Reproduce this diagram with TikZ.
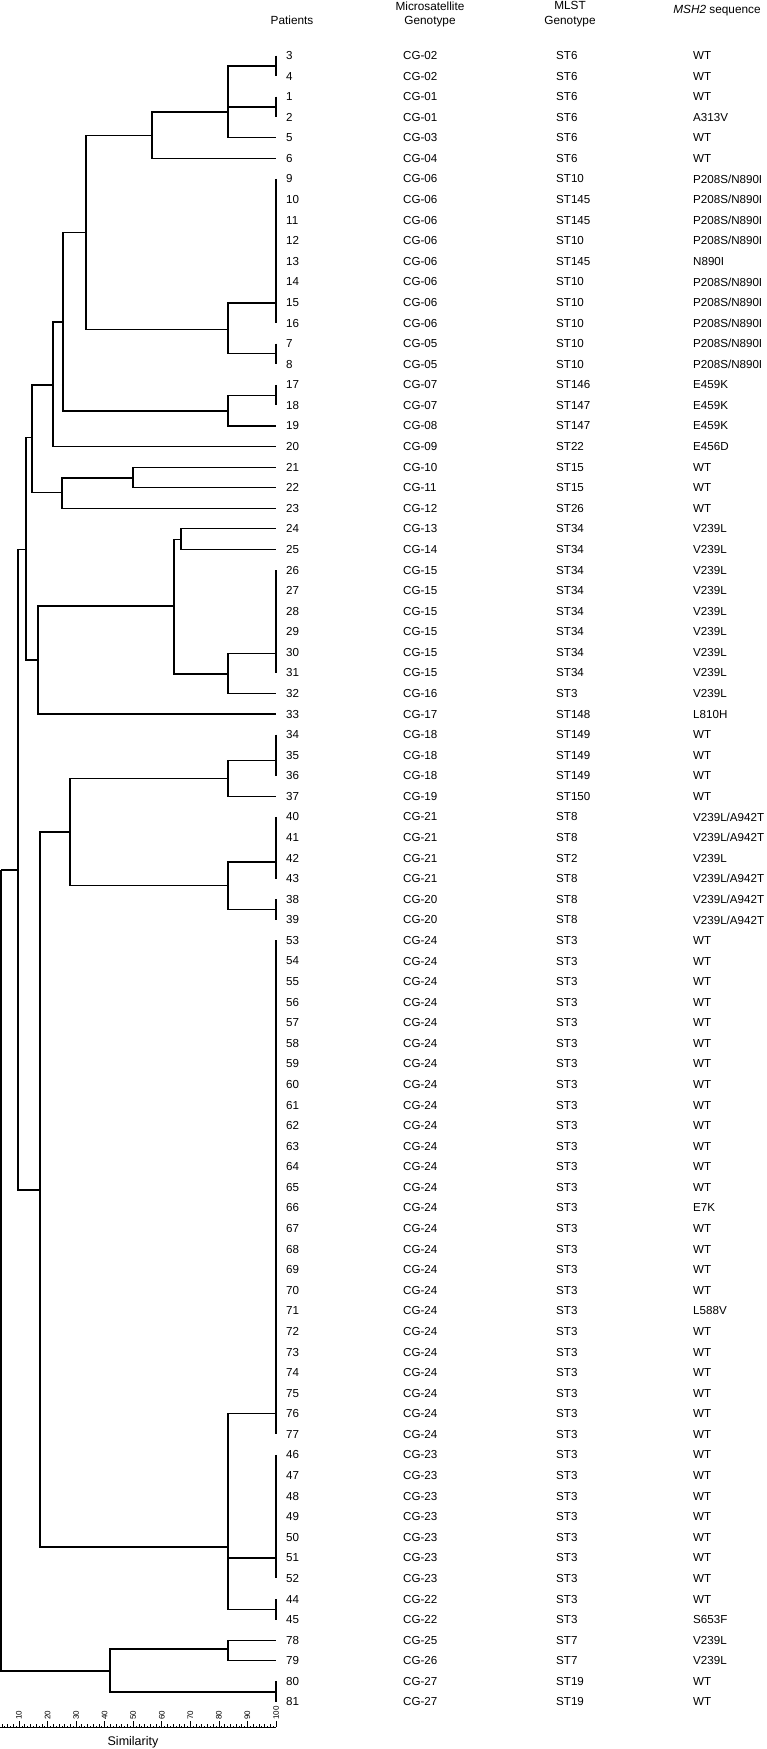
\documentclass[tikz,border=0pt]{standalone}
\usepackage{fontspec}
\setmainfont{Liberation Sans}

\begin{document}
\begin{tikzpicture}[x=1pt, y=-1pt,
    link/.style={line width=1.2pt},
    heavy/.style={line width=1.8pt},
    bar/.style={line width=1.8pt},
    axis/.style={line width=0.6pt},
    cell/.style={anchor=west, inner sep=0pt, font=\fontsize{11.6}{13}\selectfont},
    head/.style={anchor=base, inner sep=0pt, font=\fontsize{11.8}{14}\selectfont},
    tick/.style={rotate=90, anchor=west, inner sep=0pt, font=\fontsize{8}{8}\selectfont}]
\useasboundingbox (0,0) rectangle (767,1749);

\node[head] (hpat) at (292,24) {Patients};
\node[head] (hcg1) at (430,10) {Microsatellite};
\node[head] (hcg2) at (430,24.6) {Genotype};
\node[head] (hst1) at (570,9.2) {MLST};
\node[head] (hst2) at (570,24) {Genotype};
\node[head] (hmsh) at (717,13) {\textit{MSH2} sequence};

\foreach \p/\cg/\st/\ms [count=\r from 0] in {
    3/CG-02/ST6/WT, 4/CG-02/ST6/WT, 1/CG-01/ST6/WT, 2/CG-01/ST6/A313V,
    5/CG-03/ST6/WT, 6/CG-04/ST6/WT,
    9/CG-06/ST10/{P208S/N890I}, 10/CG-06/ST145/{P208S/N890I},
    11/CG-06/ST145/{P208S/N890I}, 12/CG-06/ST10/{P208S/N890I},
    13/CG-06/ST145/N890I, 14/CG-06/ST10/{P208S/N890I},
    15/CG-06/ST10/{P208S/N890I}, 16/CG-06/ST10/{P208S/N890I},
    7/CG-05/ST10/{P208S/N890I}, 8/CG-05/ST10/{P208S/N890I},
    17/CG-07/ST146/E459K, 18/CG-07/ST147/E459K, 19/CG-08/ST147/E459K,
    20/CG-09/ST22/E456D, 21/CG-10/ST15/WT, 22/CG-11/ST15/WT, 23/CG-12/ST26/WT,
    24/CG-13/ST34/V239L, 25/CG-14/ST34/V239L, 26/CG-15/ST34/V239L,
    27/CG-15/ST34/V239L, 28/CG-15/ST34/V239L, 29/CG-15/ST34/V239L,
    30/CG-15/ST34/V239L, 31/CG-15/ST34/V239L, 32/CG-16/ST3/V239L,
    33/CG-17/ST148/L810H, 34/CG-18/ST149/WT, 35/CG-18/ST149/WT,
    36/CG-18/ST149/WT, 37/CG-19/ST150/WT,
    40/CG-21/ST8/{V239L/A942T}, 41/CG-21/ST8/{V239L/A942T}, 42/CG-21/ST2/V239L,
    43/CG-21/ST8/{V239L/A942T}, 38/CG-20/ST8/{V239L/A942T}, 39/CG-20/ST8/{V239L/A942T},
    53/CG-24/ST3/WT, 54/CG-24/ST3/WT, 55/CG-24/ST3/WT, 56/CG-24/ST3/WT,
    57/CG-24/ST3/WT, 58/CG-24/ST3/WT, 59/CG-24/ST3/WT, 60/CG-24/ST3/WT,
    61/CG-24/ST3/WT, 62/CG-24/ST3/WT, 63/CG-24/ST3/WT, 64/CG-24/ST3/WT,
    65/CG-24/ST3/WT, 66/CG-24/ST3/E7K, 67/CG-24/ST3/WT, 68/CG-24/ST3/WT,
    69/CG-24/ST3/WT, 70/CG-24/ST3/WT, 71/CG-24/ST3/L588V, 72/CG-24/ST3/WT,
    73/CG-24/ST3/WT, 74/CG-24/ST3/WT, 75/CG-24/ST3/WT, 76/CG-24/ST3/WT,
    77/CG-24/ST3/WT,
    46/CG-23/ST3/WT, 47/CG-23/ST3/WT, 48/CG-23/ST3/WT, 49/CG-23/ST3/WT,
    50/CG-23/ST3/WT, 51/CG-23/ST3/WT, 52/CG-23/ST3/WT,
    44/CG-22/ST3/WT, 45/CG-22/ST3/S653F,
    78/CG-25/ST7/V239L, 79/CG-26/ST7/V239L, 80/CG-27/ST19/WT, 81/CG-27/ST19/WT} {
  \coordinate (t\p) at (276,55.5+20.58*\r);
  \node[cell] (p\p) at (286,55.5+20.58*\r) {\p};
  \node[cell] (c\p) at (403,55.5+20.58*\r) {\cg};
  \node[cell] (s\p) at (556,55.5+20.58*\r) {\st};
  \node[cell] (m\p) at (693,55.5+20.58*\r) {\ms};
}

\draw[bar] (t3) -- (t4) (t1) -- (t2) (t9) -- (t16) (t7) -- (t8) (t17) -- (t18)
  (t26) -- (t31) (t34) -- (t36) (t40) -- (t43) (t38) -- (t39) (t53) -- (t77)
  (t46) -- (t52) (t44) -- (t45) (t80) -- (t81);

\coordinate (g34) at (276,65.8);
\coordinate (g12) at (276,107);
\coordinate (g916) at (276,302.7);
\coordinate (g78) at (276,353.5);
\coordinate (g1718) at (276,395.5);
\coordinate (g2631) at (276,653.5);
\coordinate (g3436) at (276,760.7);
\coordinate (g4043) at (276,861.7);
\coordinate (g3839) at (276,909.6);
\coordinate (g5377) at (276,1413.5);
\coordinate (g4652) at (276,1558.3);
\coordinate (g4445) at (276,1609.3);
\coordinate (g8081) at (276,1691.6);

\coordinate (A) at (228,111.7);
\coordinate (B) at (152,135.7);
\coordinate (C) at (86,232.3);
\coordinate (D) at (228,329.3);
\coordinate (E) at (228,411);
\coordinate (F) at (63,321.7);
\coordinate (G) at (53,385);
\coordinate (H) at (32,437.3);
\coordinate (I) at (62,492.7);
\coordinate (K) at (133,477.7);
\coordinate (J) at (26,549.3);
\coordinate (M) at (38,660);
\coordinate (N) at (174,606);
\coordinate (O) at (181,539.3);
\coordinate (P) at (228,674);
\coordinate (L) at (18,870);
\coordinate (Q) at (40,1190);
\coordinate (S) at (70,831.7);
\coordinate (U) at (228,778.3);
\coordinate (V) at (228,885.7);
\coordinate (T) at (228,1546.7);
\coordinate (W) at (110,1670.7);
\coordinate (X) at (228,1649.3);
\coordinate (R) at (1.2,870);

\draw[heavy] (A) |- (g34) (A) |- (g12) (B) |- (A) (D) |- (g916) (E) |- (g1718)
  (G) |- (F) (I) |- (K) (N) |- (P) (P) |- (g2631)
  (Q) |- (S) (Q) |- (T) (V) |- (g4043) (T) |- (g5377) (T) |- (g4652)
  (W) |- (X) (W) |- (g8081) (R) |- (L) (R) |- (W);
\draw[link] (A) |- (t5) (B) |- (t6) (C) |- (B) (C) |- (D) (D) |- (g78)
  (E) |- (t19) (F) |- (C) (F) |- (E) (G) |- (t20) (H) |- (G) (H) |- (I)
  (I) |- (t23) (K) |- (t21) (K) |- (t22) (J) |- (H) (J) |- (M) (M) |- (N)
  (M) |- (t33) (N) |- (O)
  (O) |- (t24) (O) |- (t25) (P) |- (t32) (L) |- (J) (L) |- (Q) (S) |- (U)
  (S) |- (V) (U) |- (g3436) (U) |- (t37) (V) |- (g3839) (T) |- (g4445)
  (X) |- (t78) (X) |- (t79);

\draw[axis] (0,1727) -- (276,1727);
\foreach \s in {4,...,100} {
  \pgfmathsetmacro\tk{ifthenelse(mod(\s,10)==0,6,ifthenelse(mod(\s,2)==0,3,1.5))}
  \draw[axis] ({2.856*\s-9.6},1727) -- ++(0,-\tk);
}
\foreach \s in {10,20,...,100}
  \node[tick] (k\s) at ({2.856*\s-9.6},1720) {\s};
\node[head, font=\fontsize{12.5}{14}\selectfont] (sim) at (133,1745.5) {Similarity};
\end{tikzpicture}
\end{document}
